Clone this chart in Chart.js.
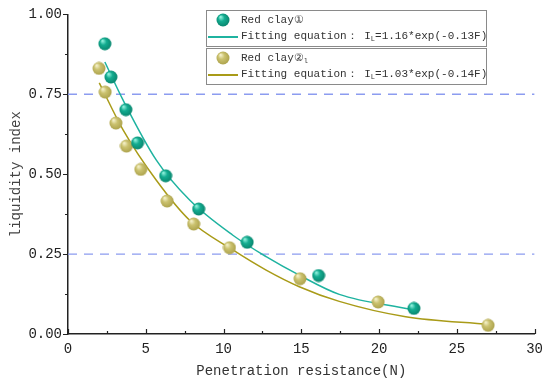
<!DOCTYPE html>
<html>
<head>
<meta charset="utf-8">
<script src="https://cdn.jsdelivr.net/npm/chart.js@4.4.1/dist/chart.umd.min.js"></script>
<style>
  html, body { margin: 0; padding: 0; background: #fff; }
  #wrap { position: relative; width: 550px; height: 387px; }
  .lg { position: absolute; left: 206px; width: 279px; height: 35px; border: 1px solid #8a8a8a;
        font: 11px 'Liberation Mono', monospace; color: #333; background: #fff; }
  .lg .row { position: absolute; left: 0; height: 16px; line-height: 16px; }
  .lg .row span { position: absolute; left: 34px; white-space: nowrap; }
  .lg img { position: absolute; left: 9px; top: 1px; }
  .lg .ln { position: absolute; left: 1px; top: 8px; width: 30px; height: 2px; }
  sub { font-size: 7px; vertical-align: -2px; }
</style>
</head>
<body>
<div id="wrap">
  <canvas id="chart" width="550" height="387"></canvas>
  <div id="legend"></div>
</div>
<script>
"use strict";

// measured points (penetration resistance F, liquidity index IL)
var clay1F  = [2.37, 2.76, 3.72, 4.47, 6.28, 8.40, 11.52, 16.11, 22.24];
var clay1IL = [0.908, 0.804, 0.702, 0.598, 0.495, 0.391, 0.287, 0.183, 0.080];
var clay2F  = [1.99, 2.39, 3.08, 3.76, 4.68, 6.37, 8.08, 10.38, 14.92, 19.94, 27.01];
var clay2IL = [0.831, 0.757, 0.660, 0.588, 0.515, 0.416, 0.344, 0.270, 0.173, 0.100, 0.027];

// fitted curves
var fit1F  = [2.37, 3.55, 5.68, 7.82, 10.6, 12.74, 14.87, 17.44, 22.03];
var fit1IL = [0.851, 0.731, 0.544, 0.419, 0.309, 0.242, 0.184, 0.124, 0.077];
var fit2F  = [2.01, 3.55, 5.68, 7.82, 10.6, 12.74, 14.87, 17.44, 21.71, 27.05];
var fit2IL = [0.786, 0.638, 0.481, 0.356, 0.263, 0.200, 0.148, 0.102, 0.054, 0.030];

// dashed reference levels
var refIL = [0.25, 0.75];
var refSpan = [0, 30];

var labels = ["Red clay\u2460", "Red clay\u2461", "Fitting equation\uff1a I<sub>L</sub>=1.16*exp(-0.13F)", "Fitting equation\uff1a I<sub>L</sub>=1.03*exp(-0.14F)"];

var teal = "#14ad91", tealLine = "#1fb3a0";
var olive = "#cbc26f", oliveLine = "#a99b18";

function pairs(xs, ys) {
	return xs.map(function (x, i) { return { x: x, y: ys[i] }; });
}

// shaded ball used as point style
function ball(base, light, dark, r) {
	var c = document.createElement("canvas");
	c.width = c.height = r * 2 + 1;
	var g = c.getContext("2d");
	var grd = g.createRadialGradient(r * 0.7, r * 0.6, 0.5, r, r, r);
	grd.addColorStop(0, light);
	grd.addColorStop(0.45, base);
	grd.addColorStop(1, dark);
	g.fillStyle = grd;
	g.beginPath();
	g.arc(r + 0.5, r + 0.5, r, 0, Math.PI * 2);
	g.fill();
	return c;
}
var ball1 = ball(teal, "#8ff0dc", "#0a8a72", 6.5);
var ball2 = ball(olive, "#f4f0c8", "#b0a650", 6.5);

var datasets = [];
refIL.forEach(function (v) {
	datasets.push({
		type: "line",
		data: pairs(refSpan, [v, v]),
		borderColor: "#8c9cf0",
		borderWidth: 1.4,
		borderDash: [9, 7],
		pointRadius: 0,
		order: 5
	});
});
datasets.push({
	type: "line", label: "fit1",
	data: pairs(fit1F, fit1IL),
	borderColor: tealLine, borderWidth: 1.5,
	pointRadius: 0, cubicInterpolationMode: "monotone", order: 4
});
datasets.push({
	type: "line", label: "fit2",
	data: pairs(fit2F, fit2IL),
	borderColor: oliveLine, borderWidth: 1.5,
	pointRadius: 0, cubicInterpolationMode: "monotone", order: 3
});
datasets.push({
	label: "clay2",
	data: pairs(clay2F, clay2IL),
	pointStyle: ball2, pointRadius: 6.5, order: 2
});
datasets.push({
	label: "clay1",
	data: pairs(clay1F, clay1IL),
	pointStyle: ball1, pointRadius: 6.5, order: 1
});

// tick marks: x inward, y outward, with minors
var tickMarks = {
	id: "tickMarks",
	afterDraw: function (chart) {
		var c = chart.ctx, xs = chart.scales.x, ys = chart.scales.y;
		var a = chart.chartArea;
		c.save();
		c.strokeStyle = "#222";
		c.lineWidth = 1.2;
		c.beginPath();
		for (var v = 0; v <= 30; v += 2.5) {
			var px = Math.round(xs.getPixelForValue(v)) + 0.5;
			var len = (v % 5 === 0) ? 5 : 3;
			c.moveTo(px, a.bottom);
			c.lineTo(px, a.bottom - len);
		}
		for (var k = 0; k <= 8; k++) {
			var py = Math.round(ys.getPixelForValue(k * 0.125)) + 0.5;
			var l2 = (k % 2 === 0) ? 5 : 3;
			c.moveTo(a.left, py);
			c.lineTo(a.left - l2, py);
		}
		c.stroke();
		c.restore();
	}
};

Chart.defaults.font.family = "'Liberation Mono', monospace";
Chart.defaults.color = "#333";

var chart = new Chart(document.getElementById("chart"), {
	type: "scatter",
	data: { datasets: datasets },
	options: {
		responsive: false,
		animation: false,
		layout: { padding: { top: 14, right: 14, left: 0, bottom: 0 } },
		plugins: { legend: { display: false }, tooltip: { enabled: false } },
		scales: {
			x: {
				type: "linear", min: 0, max: 30,
				grid: { display: false, tickLength: 0 },
				border: { display: true, color: "#222", width: 1.5 },
				ticks: { stepSize: 5, padding: 7, font: { size: 14 }, color: "#222" },
				title: { display: true, text: "Penetration resistance(N)", font: { size: 14 }, color: "#333", padding: { top: 0, bottom: 7 } },
				afterFit: function (s) { s.height = 53; }
			},
			y: {
				min: 0, max: 1,
				grid: { display: false, tickLength: 0 },
				border: { display: true, color: "#222", width: 1.5 },
				ticks: { stepSize: 0.25, padding: 6, font: { size: 14 }, color: "#222",
					callback: function (v) { return v.toFixed(2); } },
				title: { display: true, text: "liquidity index", font: { size: 14 }, color: "#444", padding: { top: 8, bottom: 0 } },
				afterFit: function (s) { s.width = 68; }
			}
		}
	},
	plugins: [tickMarks]
});

// legend boxes (two groups)
var groups = [
	{ top: 10, img: ball1, line: tealLine, text: [labels[0], labels[2]] },
	{ top: 48, img: ball2, line: oliveLine, text: [labels[1] + "<sub>l</sub>", labels[3]] }
];
var lg = document.getElementById("legend");
groups.forEach(function (g) {
	var box = document.createElement("div");
	box.className = "lg";
	box.style.top = g.top + "px";
	box.innerHTML =
		'<div class="row" style="top:1px"><img src="' + g.img.toDataURL() + '"><span>' + g.text[0] + '</span></div>' +
		'<div class="row" style="top:17px"><div class="ln" style="background:' + g.line + '"></div><span>' + g.text[1] + '</span></div>';
	lg.appendChild(box);
});
</script>
</body>
</html>
